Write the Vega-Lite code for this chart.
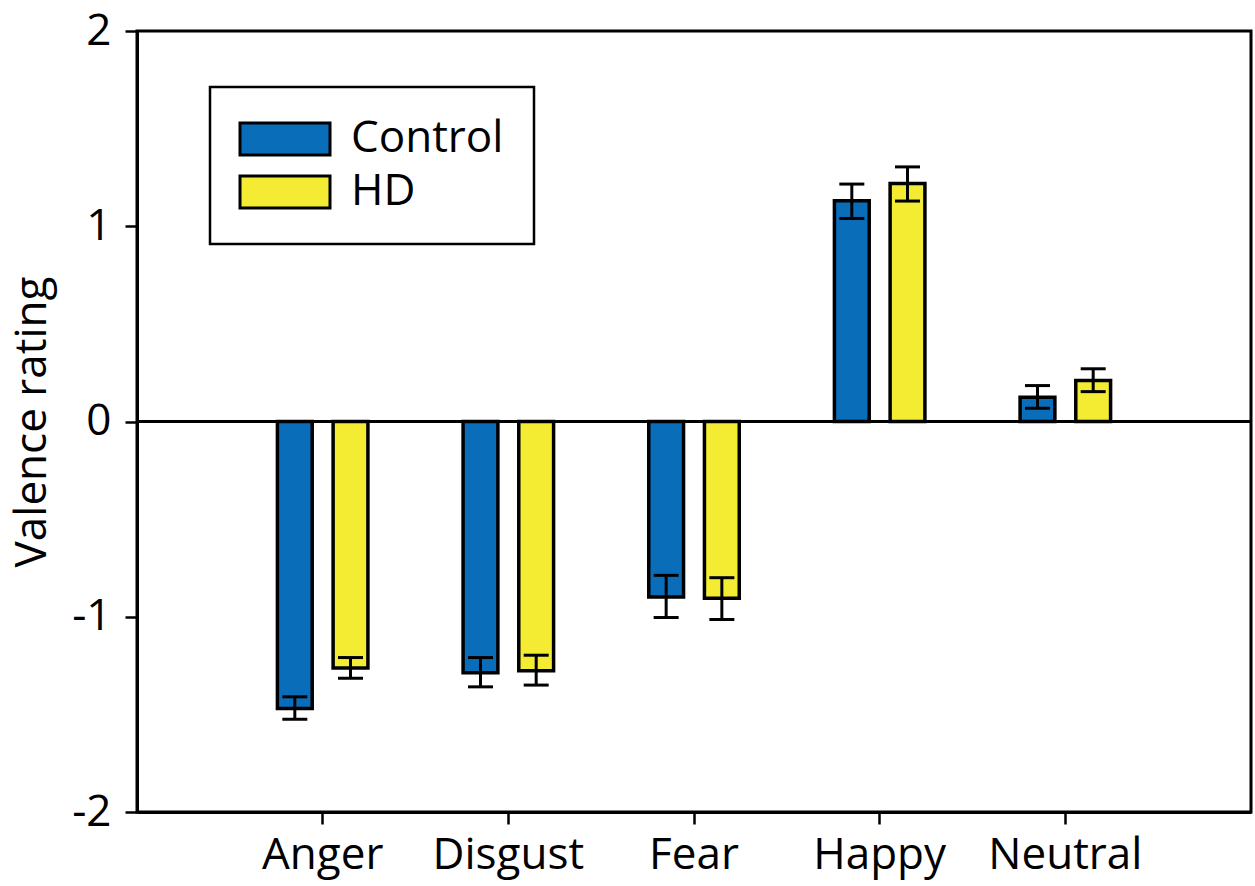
{
  "$schema": "https://vega.github.io/schema/vega-lite/v6.json",
  "autosize": {"type": "none"},
  "padding": {"left": 137, "top": 31, "right": 4, "bottom": 74},
  "width": 1114,
  "height": 781,
  "background": "white",
  "data": {
    "values": [
      {"emotion": "Anger", "group": "Control", "mean": -1.47, "lo": -1.525, "hi": -1.41},
      {"emotion": "Anger", "group": "HD", "mean": -1.262, "lo": -1.315, "hi": -1.209},
      {"emotion": "Disgust", "group": "Control", "mean": -1.287, "lo": -1.359, "hi": -1.209},
      {"emotion": "Disgust", "group": "HD", "mean": -1.277, "lo": -1.35, "hi": -1.197},
      {"emotion": "Fear", "group": "Control", "mean": -0.899, "lo": -1.004, "hi": -0.788},
      {"emotion": "Fear", "group": "HD", "mean": -0.905, "lo": -1.014, "hi": -0.8},
      {"emotion": "Happy", "group": "Control", "mean": 1.13, "lo": 1.04, "hi": 1.216},
      {"emotion": "Happy", "group": "HD", "mean": 1.219, "lo": 1.129, "hi": 1.304},
      {"emotion": "Neutral", "group": "Control", "mean": 0.124, "lo": 0.068, "hi": 0.184},
      {"emotion": "Neutral", "group": "HD", "mean": 0.21, "lo": 0.153, "hi": 0.27}
    ]
  },
  "encoding": {
    "x": {
      "field": "emotion", "type": "nominal", "sort": null, "title": null,
      "scale": {"paddingInner": 0.4, "paddingOuter": 0.7},
      "axis": {"labelAngle": 0, "labelFontSize": 44, "labelPadding": 9, "tickSize": 12, "tickWidth": 2.5}
    },
    "xOffset": {
      "field": "group", "type": "nominal",
      "scale": {"paddingInner": 0.375, "paddingOuter": 0.1875}
    }
  },
  "layer": [
    {
      "mark": {"type": "bar", "stroke": "black", "strokeWidth": 3.5},
      "encoding": {
        "y": {
          "field": "mean", "type": "quantitative", "title": "Valence rating",
          "scale": {"domain": [-2, 2], "nice": false},
          "axis": {"values": [-2, -1, 0, 1, 2], "labelExpr": "'' + datum.value", "labelFontSize": 44, "labelPadding": 14, "tickSize": 12, "tickWidth": 2.5, "titleFontSize": 44, "titleFontWeight": "normal", "titlePadding": 17, "grid": false}
        },
        "color": {
          "field": "group", "type": "nominal", "title": null,
          "scale": {"domain": ["Control", "HD"], "range": ["#0A6DBA", "#F3EC32"]},
          "legend": {
            "orient": "none", "legendX": 73, "legendY": 56,
            "symbolType": "M-2.8125,-1H2.8125V1H-2.8125Z", "symbolSize": 1024,
            "symbolOffset": 23,
            "symbolStrokeColor": "black", "symbolStrokeWidth": 3, "symbolOpacity": 1,
            "labelFontSize": 44, "labelOffset": 44, "rowPadding": 9,
            "strokeColor": "black", "padding": 30, "fillColor": "white"
          }
        }
      }
    },
    {
      "mark": {"type": "rule", "color": "black", "strokeWidth": 3},
      "encoding": {
        "y": {"field": "lo", "type": "quantitative"},
        "y2": {"field": "hi"}
      }
    },
    {
      "mark": {"type": "tick", "color": "black", "thickness": 3, "size": 25, "orient": "horizontal", "opacity": 1},
      "encoding": {"y": {"field": "lo", "type": "quantitative"}}
    },
    {
      "mark": {"type": "tick", "color": "black", "thickness": 3, "size": 25, "orient": "horizontal", "opacity": 1},
      "encoding": {"y": {"field": "hi", "type": "quantitative"}}
    },
    {
      "data": {"values": [{"zero": 0}]},
      "mark": {"type": "rule", "color": "black", "strokeWidth": 3},
      "encoding": {"x": null, "xOffset": null, "y": {"field": "zero", "type": "quantitative"}}
    }
  ],
  "config": {
    "font": "Open Sans",
    "view": {"stroke": "black", "strokeWidth": 3},
    "axis": {"domainColor": "black", "domainWidth": 3, "tickColor": "black", "labelColor": "black", "titleColor": "black", "labelFont": "Open Sans", "titleFont": "Open Sans"},
    "legend": {"labelFont": "Open Sans", "labelColor": "black", "strokeWidth": 2.5}
  }
}
